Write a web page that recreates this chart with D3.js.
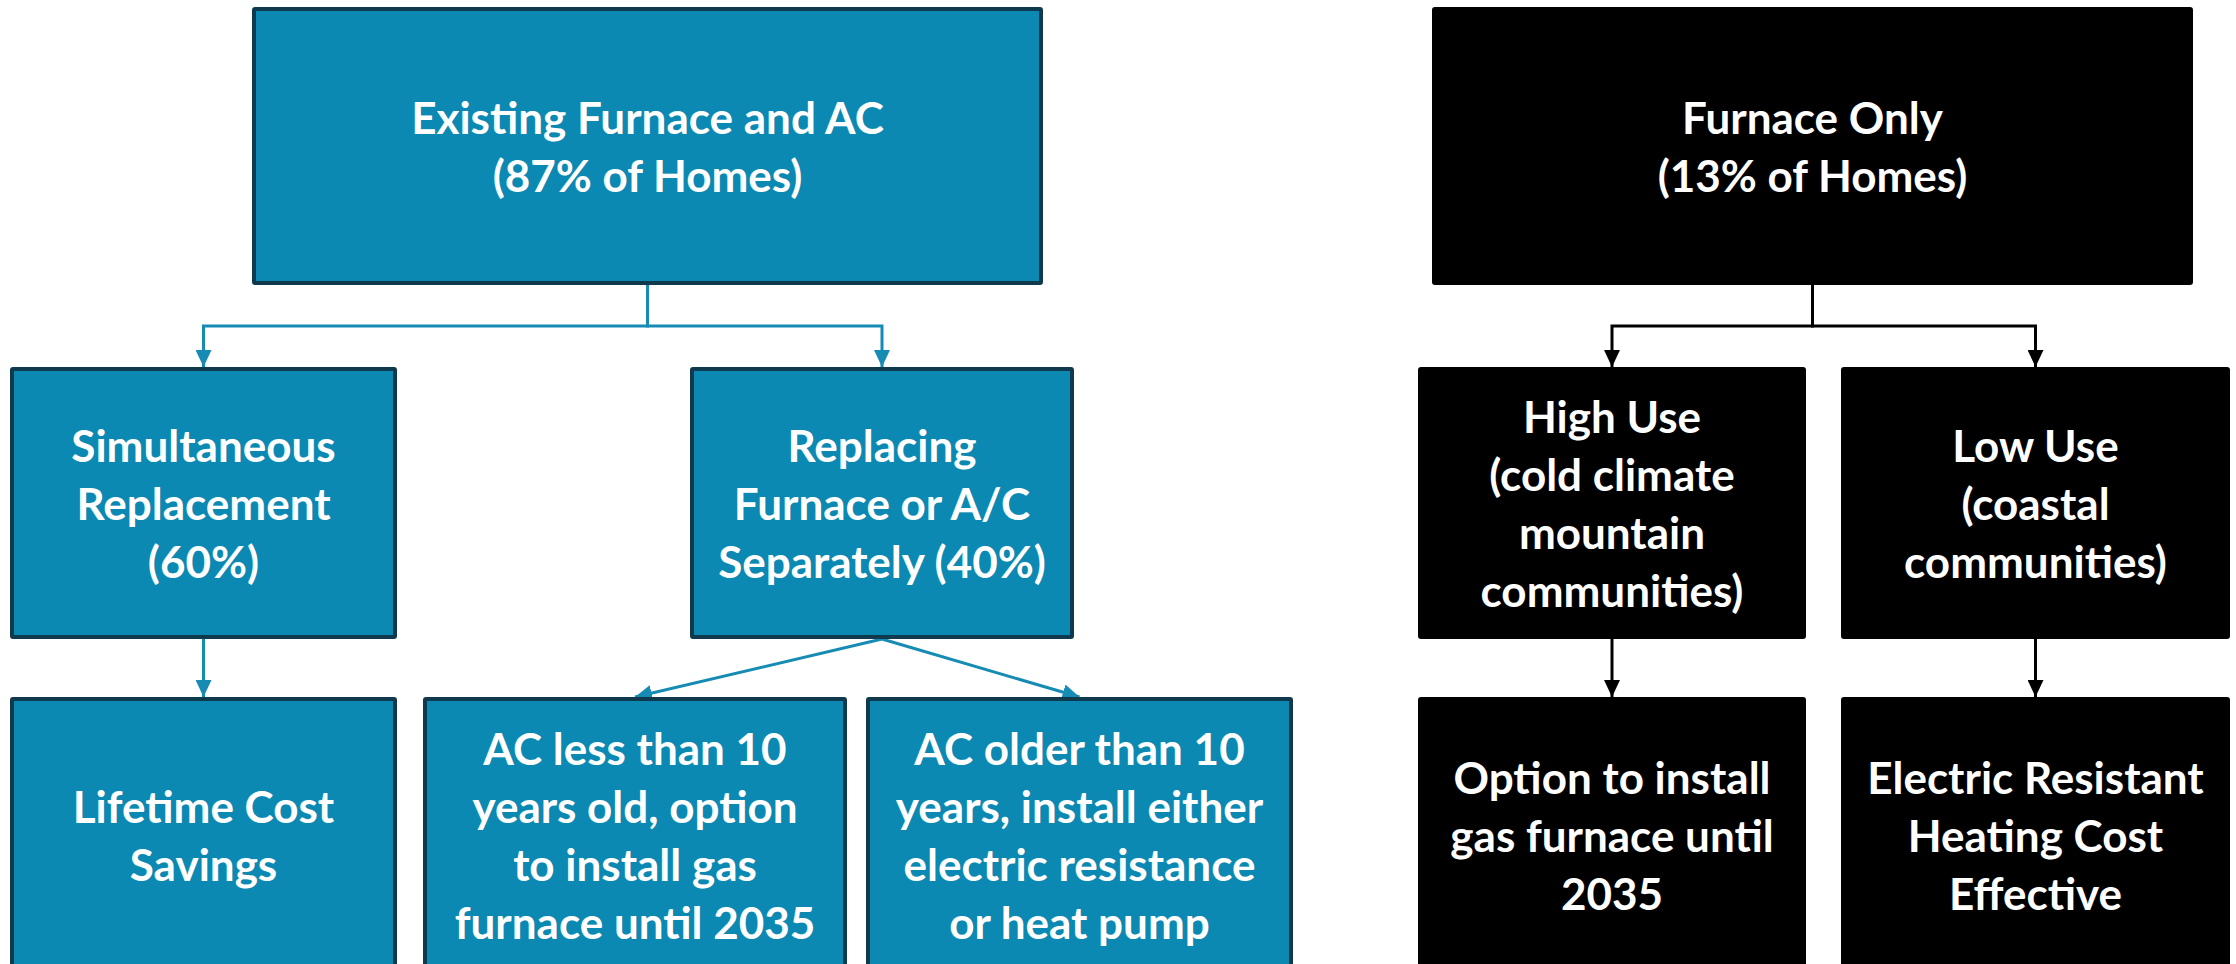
<!DOCTYPE html>
<html lang="en">
<head>
<meta charset="utf-8">
<title>Furnace and AC replacement paths</title>
<script src="https://d3js.org/d3.v7.min.js"></script>
<style>
  body { margin: 0; background: #fff; }
  text { font-family: Lato, "Open Sans", sans-serif; font-weight: 700; }
</style>
</head>
<body>
<script>

// ---- data: the two decision trees ----
var nodeIds = ["existing", "simul", "separate", "lifetime", "acNew", "acOld",
               "furnace", "highUse", "lowUse", "gasOption", "resistive"];
var nodeLabels = [
  ["Existing Furnace and AC", "(87% of Homes)"],
  ["Simultaneous", "Replacement", "(60%)"],
  ["Replacing", "Furnace or A/C", "Separately (40%)"],
  ["Lifetime Cost", "Savings"],
  ["AC less than 10", "years old, option", "to install gas", "furnace until 2035"],
  ["AC older than 10", "years, install either", "electric resistance", "or heat pump"],
  ["Furnace Only", "(13% of Homes)"],
  ["High Use", "(cold climate", "mountain", "communities)"],
  ["Low Use", "(coastal", "communities)"],
  ["Option to install", "gas furnace until", "2035"],
  ["Electric Resistant", "Heating Cost", "Effective"]
];
var nodeGroups = ["furnaceAC", "furnaceAC", "furnaceAC", "furnaceAC", "furnaceAC", "furnaceAC",
                  "furnaceOnly", "furnaceOnly", "furnaceOnly", "furnaceOnly", "furnaceOnly"];
var nodeLevels = [0, 1, 1, 2, 2, 2, 0, 1, 1, 2, 2];

var linkSources = ["existing", "existing", "simul", "separate", "separate",
                   "furnace", "furnace", "highUse", "lowUse"];
var linkTargets = ["simul", "separate", "lifetime", "acNew", "acOld",
                   "highUse", "lowUse", "gasOption", "resistive"];

// ---- layout ----
var w = 2236, h = 964;
var lineHeight = 58;

// horizontal extent of each box (px)
var boxSpan = {
  existing: [252, 1043], simul: [10, 397], separate: [690, 1074],
  lifetime: [10, 397], acNew: [423, 847], acOld: [866, 1293],
  furnace: [1432, 2193], highUse: [1418, 1806], lowUse: [1841, 2230],
  gasOption: [1418, 1806], resistive: [1841, 2230]
};
// vertical extent of each level
var levelY = d3.scaleOrdinal().domain([0, 1, 2])
  .range([[7, 285], [367, 639], [697, 973]]);

var fill = d3.scaleOrdinal().domain(["furnaceAC", "furnaceOnly"]).range(["#0b89b2", "#000000"]);
var edge = d3.scaleOrdinal().domain(["furnaceAC", "furnaceOnly"]).range(["#0f3a4e", "#000000"]);
var linkColor = d3.scaleOrdinal().domain(["furnaceAC", "furnaceOnly"]).range(["#168bb4", "#000000"]);

// branches drawn as diagonal fans instead of elbows
var fanSources = ["separate"];

var nodes = nodeIds.map(function(id, i) {
  var ys = levelY(nodeLevels[i]);
  return {
    id: id, label: nodeLabels[i], group: nodeGroups[i],
    x0: boxSpan[id][0], x1: boxSpan[id][1], y0: ys[0], y1: ys[1]
  };
});
var byId = {};
nodes.forEach(function(n) { byId[n.id] = n; });

var links = linkSources.map(function(s, i) {
  return { source: byId[s], target: byId[linkTargets[i]] };
});

var svg = d3.select("body")
            .append("svg")
            .attr("width", w)
            .attr("height", h);

// arrow heads
var defs = svg.append("defs");
["furnaceAC", "furnaceOnly"].forEach(function(g) {
  defs.append("marker")
      .attr("id", "arrow-" + g)
      .attr("markerUnits", "userSpaceOnUse")
      .attr("markerWidth", 17)
      .attr("markerHeight", 16)
      .attr("refX", 17)
      .attr("refY", 8)
      .attr("orient", "auto")
    .append("path")
      .attr("d", "M0,0 L17,8 L0,16 Z")
      .attr("fill", linkColor(g));
});

function cx(n) { return (n.x0 + n.x1) / 2; }

function linkPath(l) {
  var s = l.source, t = l.target;
  var sx = cx(s), tx = cx(t);
  if (fanSources.indexOf(s.id) >= 0) {
    return "M" + sx + "," + s.y1 + "L" + tx + "," + t.y0;
  }
  if (Math.abs(sx - tx) < 2) {
    return "M" + tx + "," + s.y1 + "L" + tx + "," + t.y0;
  }
  var busY = (s.y1 + t.y0) / 2;
  return "M" + sx + "," + s.y1 + "V" + busY + "H" + tx + "V" + t.y0;
}

svg.append("g")
  .selectAll("path")
  .data(links)
  .enter()
  .append("path")
  .attr("d", linkPath)
  .attr("fill", "none")
  .attr("stroke", function(d) { return linkColor(d.source.group); })
  .attr("stroke-width", 3)
  .attr("stroke-linejoin", "miter")
  .attr("marker-end", function(d) { return "url(#arrow-" + d.source.group + ")"; });

// boxes
var box = svg.append("g")
  .selectAll("g")
  .data(nodes)
  .enter()
  .append("g");

box.append("rect")
  .attr("x", function(d) { return d.x0 + 2; })
  .attr("y", function(d) { return d.y0 + 2; })
  .attr("width", function(d) { return d.x1 - d.x0 - 4; })
  .attr("height", function(d) { return d.y1 - d.y0 - 4; })
  .attr("rx", 1)
  .attr("fill", function(d) { return fill(d.group); })
  .attr("stroke", function(d) { return edge(d.group); })
  .attr("stroke-width", 4);

box.append("text")
  .attr("text-anchor", "middle")
  .attr("fill", "#ffffff")
  .attr("font-size", 44)
  .selectAll("tspan")
  .data(function(d) {
    return d.label.map(function(line, i) {
      var mid = (d.y0 + d.y1) / 2;
      return { text: line, x: cx(d), y: mid + (i - (d.label.length - 1) / 2) * lineHeight };
    });
  })
  .enter()
  .append("tspan")
  .attr("x", function(d) { return d.x; })
  .attr("y", function(d) { return d.y; })
  .attr("dominant-baseline", "central")
  .text(function(d) { return d.text; });

</script>
</body>
</html>
